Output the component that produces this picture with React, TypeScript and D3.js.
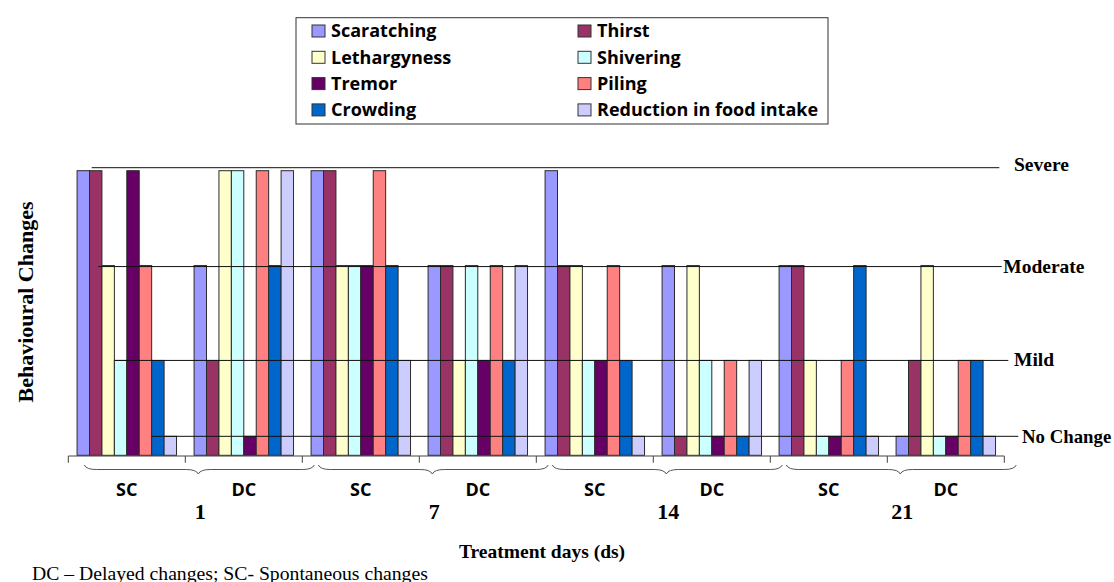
import React from "react";
import * as d3 from "d3";

// ---------- data ----------
const groups = ["1-SC", "1-DC", "7-SC", "7-DC", "14-SC", "14-DC", "21-SC", "21-DC"];
const phaseLabels = ["SC", "DC", "SC", "DC", "SC", "DC", "SC", "DC"];
const days = ["1", "7", "14", "21"];

const seriesNames = [
  "Scaratching",
  "Thirst",
  "Lethargyness",
  "Shivering",
  "Tremor",
  "Piling",
  "Crowding",
  "Reduction in food intake",
];
const seriesColors = ["#9999FF", "#993366", "#FFFFCC", "#CCFFFF", "#660066", "#FF8080", "#0066CC", "#CCCCFF"];

const scaratching = [3, 2, 3, 2, 3, 2, 2, 0.2];
const thirst = [3, 1, 3, 2, 2, 0.2, 2, 1];
const lethargyness = [2, 3, 2, 1, 2, 2, 1, 2];
const shivering = [1, 3, 2, 2, 1, 1, 0.2, 0.2];
const tremor = [3, 0.2, 2, 1, 1, 0.2, 0.2, 0.2];
const piling = [2, 3, 3, 2, 2, 1, 1, 1];
const crowding = [1, 2, 2, 1, 1, 0.2, 2, 1];
const reduction = [0.2, 3, 1, 2, 0.2, 1, 0.2, 0.2];
const seriesValues = [scaratching, thirst, lethargyness, shivering, tremor, piling, crowding, reduction];

const levelNames = ["No Change", "Mild", "Moderate", "Severe"];
const levelValues = [0.2, 1, 2, 3];

// ---------- layout ----------
const W = 1114;
const H = 582;
const axisLeft = 68.3;
const axisRight = 1004.3;
const yBase = 455.3;
const yTop = 170.7;
// per level: line start, line end, label x, line nudge, label nudge, label size
const levelLineX0 = [151.7, 115, 98.3, 91.7];
const levelLineX1 = [1018.3, 1008.3, 1001.7, 999.3];
const levelLabelX = [1022, 1014, 1003.3, 1014];
const levelLineDy = [0, 0, 1, -3];
const levelLabelDy = [6.5, 6, 6, 3.5];
const levelLabelSize = [18.8, 19.5, 19.5, 19.5];

const serif = "'Liberation Serif', 'Times New Roman', serif";
const sans = "'Open Sans', sans-serif";

export default function App() {
  const x0 = d3.scaleBand<string>().domain(groups).range([axisLeft, axisRight]).padding(0);
  const bw = x0.bandwidth();
  const inner = bw * 0.85;
  const x1 = d3.scaleBand<string>().domain(seriesNames).range([0, inner]).padding(0);
  const offset = (bw - inner) / 2;
  const y = d3.scaleLinear().domain([0, 3]).range([yBase, yTop]);

  const braceY0 = 465;
  const braceY1 = 469.5;
  const braceY2 = 474;

  const bracePath = (a: number, b: number, m: number) => {
    const p = d3.path();
    p.moveTo(a, braceY0);
    p.quadraticCurveTo(a + 2, braceY1, a + 12, braceY1);
    p.lineTo(m - 12, braceY1);
    p.quadraticCurveTo(m - 2, braceY1, m, braceY2);
    p.quadraticCurveTo(m + 2, braceY1, m + 12, braceY1);
    p.lineTo(b - 12, braceY1);
    p.quadraticCurveTo(b - 2, braceY1, b, braceY0);
    return p.toString();
  };

  const ticks = d3.range(groups.length + 1).map((i) => axisLeft + i * bw);

  return (
    <svg width={W} height={H} style={{ position: "absolute", left: 0, top: 0, background: "#fff" }}>
      {/* legend */}
      <rect x={296} y={17.7} width={532} height={106.3} fill="#fff" stroke="#333" strokeWidth={1} />
      {seriesNames.map((name, i) => {
        const col = i % 2;
        const row = Math.floor(i / 2);
        const sx = col === 0 ? 312 : 578;
        const cy = 31 + row * 26.3;
        return (
          <g key={name}>
            <rect x={sx} y={cy - 6} width={13} height={12} fill={seriesColors[i]} stroke="#333" strokeWidth={1} />
            <text x={sx + 19} y={cy + 6.3} fontFamily={sans} fontWeight={700} fontSize={18} fill="#000">
              {name}
            </text>
          </g>
        );
      })}

      {/* bars */}
      {groups.map((g, gi) => (
        <g key={g} transform={`translate(${x0(g)! + offset},0)`}>
          {seriesNames.map((s, si) => {
            const v = seriesValues[si][gi];
            return (
              <rect
                key={s}
                x={x1(s)!}
                y={y(v)}
                width={x1.bandwidth()}
                height={yBase - y(v)}
                fill={seriesColors[si]}
                stroke="#2a2a2a"
                strokeWidth={1}
              />
            );
          })}
        </g>
      ))}

      {/* level lines */}
      {levelNames.map((name, i) => {
        const ly = y(levelValues[i]) + levelLineDy[i];
        return (
          <g key={name}>
            <line x1={levelLineX0[i]} x2={levelLineX1[i]} y1={ly} y2={ly} stroke="#111" strokeWidth={1} />
            <text
              x={levelLabelX[i]}
              y={ly + levelLabelDy[i]}
              fontFamily={serif}
              fontWeight={700}
              fontSize={levelLabelSize[i]}
              fill="#000"
            >
              {name}
            </text>
          </g>
        );
      })}

      {/* x axis */}
      <line x1={axisLeft} x2={axisRight} y1={yBase + 0.7} y2={yBase + 0.7} stroke="#444" strokeWidth={1} />
      {ticks.map((t, i) => (
        <line key={i} x1={t} x2={t} y1={yBase + 0.7} y2={yBase + 7.5} stroke="#444" strokeWidth={1} />
      ))}

      {/* phase labels */}
      {groups.map((g, gi) => (
        <text
          key={g}
          x={x0(g)! + bw / 2}
          y={496}
          textAnchor="middle"
          fontFamily={sans}
          fontWeight={700}
          fontSize={18}
          fill="#000"
        >
          {phaseLabels[gi]}
        </text>
      ))}

      {/* braces and day labels */}
      {days.map((d, di) => {
        const a = x0(groups[di * 2])!;
        const b = a + 2 * bw;
        const m = (a + b) / 2;
        return (
          <g key={d}>
            <path d={bracePath(a + 16, b + 12, m + 13)} fill="none" stroke="#555" strokeWidth={1} />
            <text x={m + 15} y={519} textAnchor="middle" fontFamily={serif} fontWeight={700} fontSize={22} fill="#000">
              {d}
            </text>
          </g>
        );
      })}

      {/* axis titles */}
      <text x={459} y={558} fontFamily={serif} fontWeight={700} fontSize={19.5} fill="#000">
        Treatment days (ds)
      </text>
      <text
        transform={`translate(33,302) rotate(-90)`}
        textAnchor="middle"
        fontFamily={serif}
        fontWeight={700}
        fontSize={22}
        fill="#000"
      >
        Behavioural Changes
      </text>

      {/* footnote */}
      <text x={32} y={580} fontFamily={serif} fontSize={19.7} fill="#000">
        DC – Delayed changes; SC- Spontaneous changes
      </text>
    </svg>
  );
}
